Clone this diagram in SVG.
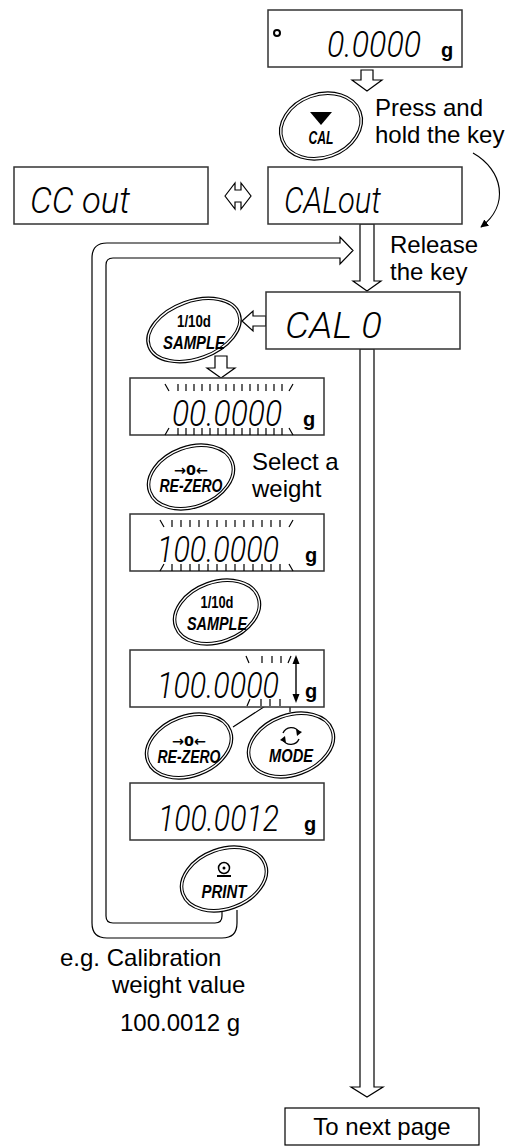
<svg xmlns="http://www.w3.org/2000/svg" width="531" height="1146" viewBox="0 0 531 1146">
<style>
.box{fill:#fff;stroke:#333;stroke-width:1.5}
.seg{font-family:"Roboto","Inter","DejaVu Sans",sans-serif;font-style:italic;font-weight:300;font-size:37px;fill:#000}
.gu{font-family:"Liberation Sans",Arial,sans-serif;font-weight:bold;font-size:20px;fill:#000}
.lbl{font-family:"Liberation Sans",Arial,sans-serif;font-size:24px;fill:#000}
.ko{fill:#fff;stroke:#000;stroke-width:1.2}
.ki{fill:none;stroke:#000;stroke-width:1}
.kt{font-family:"Liberation Sans",Arial,sans-serif;font-weight:bold;font-style:italic;font-size:18px;fill:#000;text-anchor:middle}
.kn{font-family:"Liberation Sans",Arial,sans-serif;font-weight:bold;font-size:16px;fill:#000;text-anchor:middle}
.ks{font-family:"DejaVu Sans",sans-serif;font-weight:bold;font-size:14px;fill:#000;text-anchor:middle}
.hol{fill:#fff;stroke:#000;stroke-width:1.2;stroke-linejoin:miter}
.tk{fill:none;stroke:#000;stroke-width:1.2}
.ln{fill:none;stroke:#000;stroke-width:1.2}
</style>
<defs>
<marker id="ah" viewBox="0 0 10 10" refX="9" refY="5" markerWidth="8" markerHeight="8" orient="auto" markerUnits="userSpaceOnUse">
<path d="M0,0 L10,5 L0,10 z" fill="#000"/>
</marker>
</defs>

<g id="connectors">
<polygon class="hol" points="361,70 373,70 373,80 382,80 367,91 352,80 361,80"/>
<polygon class="hol" points="225,196 235,183 235,190 241,190 241,183 251,196 241,209 241,202 235,202 235,209"/>
<path class="ln" d="M473,153 C503,170 510,205 481,227" marker-end="url(#ah)" stroke-width="1.4"/>
<path class="ln" d="M237,910 V923 Q237,938 222,938 H107 Q92,938 92,923 V258 Q92,243 107,243 H340 V237 L353,250.5 L340,264 V258 H113 Q106,258 106,265 V916 Q106,923 113,923 H215 Q222,923 222,916 V910"/>
<polygon class="hol" points="360,224 374,224 374,281 381,281 367,291 353,281 360,281"/>
<polygon class="hol" points="360,349 374,349 374,1087 383,1087 367,1097 351,1087 360,1087"/>
<polygon class="hol" points="242,321 253,311 253,316 266,316 266,326 253,326 253,331"/>
<polygon class="hol" points="215,356 227,356 227,368 235,368 221,378 207,368 215,368"/>
<path class="ln" d="M233,727 L293,688 M290,712 V692"/>
</g>

<g id="disp-top">
<rect class="box" x="268" y="10" width="194" height="57"/>
<circle cx="277" cy="33" r="3" fill="none" stroke="#000" stroke-width="2"/>
<text class="seg" x="327" y="57" textLength="94" lengthAdjust="spacingAndGlyphs">0.0000</text>
<text class="gu" x="441" y="57">g</text>
</g>

<g id="key-cal" transform="translate(321,126)">
<ellipse class="ko" rx="42.5" ry="32.7" transform="rotate(-20)"/>
<ellipse class="ki" rx="40" ry="30.2" transform="rotate(-20)"/>
<polygon points="-11,-14 11,-14 0,-1" fill="#000"/>
<text class="kt" x="0" y="18" textLength="25" lengthAdjust="spacingAndGlyphs">CAL</text>
</g>
<text class="lbl" x="375" y="116">Press and</text>
<text class="lbl" x="375" y="143">hold the key</text>

<g id="disp-ccout">
<rect class="box" x="14" y="167" width="194" height="57"/>
<text class="seg" x="30" y="213" textLength="100" lengthAdjust="spacingAndGlyphs">CC out</text>
</g>

<g id="disp-calout">
<rect class="box" x="268" y="167" width="194" height="57"/>
<text class="seg" x="284" y="213" textLength="97" lengthAdjust="spacingAndGlyphs">CALout</text>
</g>
<text class="lbl" x="390" y="253">Release</text>
<text class="lbl" x="390" y="280">the key</text>

<g id="disp-cal0">
<rect class="box" x="266" y="292" width="194" height="57"/>
<text class="seg" x="285" y="338" textLength="97" lengthAdjust="spacingAndGlyphs">CAL 0</text>
</g>

<g id="key-sample1" transform="translate(194,330)">
<ellipse class="ko" rx="49" ry="30" transform="rotate(-20)"/>
<ellipse class="ki" rx="46.5" ry="27.5" transform="rotate(-20)"/>
<text class="kn" x="0" y="-3" textLength="34" lengthAdjust="spacingAndGlyphs">1/10d</text>
<text class="kt" x="0" y="19" textLength="62" lengthAdjust="spacingAndGlyphs">SAMPLE</text>
</g>

<g id="disp-3">
<rect class="box" x="130" y="378" width="194" height="57"/>
<text class="seg" x="172" y="426" textLength="110" lengthAdjust="spacingAndGlyphs">00.0000</text>
<text class="gu" x="303" y="426">g</text>
<path class="tk" d="M165,384 l4,7 M178,384 v7 M186,384 v7 M194,384 v7 M202,384 v7 M210,384 v7 M218,384 v7 M226,384 v7 M234,384 v7 M242,384 v7 M250,384 v7 M258,384 v7 M266,384 v7 M274,384 v7 M282,384 v7 M293,384 l-4,7 M169,428 l-4,7 M178,428 v7 M186,428 v7 M194,428 v7 M202,428 v7 M210,428 v7 M218,428 v7 M226,428 v7 M234,428 v7 M242,428 v7 M250,428 v7 M258,428 v7 M266,428 v7 M274,428 v7 M282,428 v7 M289,428 l4,7"/>
</g>

<g id="key-rezero1" transform="translate(191,477)">
<ellipse class="ko" rx="45" ry="31" transform="rotate(-20)"/>
<ellipse class="ki" rx="42.5" ry="28.5" transform="rotate(-20)"/>
<text class="ks" x="0" y="-2" textLength="34" lengthAdjust="spacingAndGlyphs">→0←</text>
<text class="kt" x="0" y="15" textLength="63" lengthAdjust="spacingAndGlyphs">RE-ZERO</text>
</g>
<text class="lbl" x="252" y="470">Select a</text>
<text class="lbl" x="252" y="497">weight</text>

<g id="disp-2">
<rect class="box" x="130" y="514" width="194" height="57"/>
<text class="seg" x="157" y="562" textLength="122" lengthAdjust="spacingAndGlyphs">100.0000</text>
<text class="gu" x="305" y="562">g</text>
<path class="tk" d="M160,520 l4,7 M172,520 v7 M181,520 v7 M190,520 v7 M199,520 v7 M208,520 v7 M217,520 v7 M226,520 v7 M235,520 v7 M244,520 v7 M253,520 v7 M262,520 v7 M271,520 v7 M280,520 v7 M293,520 l-4,7 M164,564 l-4,7 M172,564 v7 M181,564 v7 M190,564 v7 M199,564 v7 M208,564 v7 M217,564 v7 M226,564 v7 M235,564 v7 M244,564 v7 M253,564 v7 M262,564 v7 M271,564 v7 M280,564 v7 M289,564 l4,7"/>
</g>

<g id="key-sample2" transform="translate(217,612)">
<ellipse class="ko" rx="45" ry="31" transform="rotate(-20)"/>
<ellipse class="ki" rx="42.5" ry="28.5" transform="rotate(-20)"/>
<text class="kn" x="0" y="-4" textLength="33" lengthAdjust="spacingAndGlyphs">1/10d</text>
<text class="kt" x="0" y="18" textLength="60" lengthAdjust="spacingAndGlyphs">SAMPLE</text>
</g>

<g id="disp-4">
<rect class="box" x="130" y="650" width="194" height="57"/>
<text class="seg" x="157" y="698" textLength="122" lengthAdjust="spacingAndGlyphs">100.0000</text>
<text class="gu" x="305" y="698">g</text>
<path class="tk" d="M246,656 l3,7 M262,656 v7 M272,656 v7 M281,656 v7 M291,656 l-3,7 M250,699 l-3,7 M261,699 v7 M270,699 v7 M280,699 v7"/>
<path d="M296,662 V696" stroke="#000" stroke-width="1.4"/>
<polygon points="292.5,664 299.5,664 296,655" fill="#000"/>
<polygon points="292.5,694 299.5,694 296,703" fill="#000"/>
</g>

<g id="key-rezero2" transform="translate(189,746)">
<ellipse class="ko" rx="45" ry="31" transform="rotate(-20)"/>
<ellipse class="ki" rx="42.5" ry="28.5" transform="rotate(-20)"/>
<text class="ks" x="0" y="0" textLength="34" lengthAdjust="spacingAndGlyphs">→0←</text>
<text class="kt" x="0" y="17" textLength="63" lengthAdjust="spacingAndGlyphs">RE-ZERO</text>
</g>

<g id="key-mode" transform="translate(291,745)">
<ellipse class="ko" rx="45" ry="31" transform="rotate(-20)"/>
<ellipse class="ki" rx="42.5" ry="28.5" transform="rotate(-20)"/>
<path d="M-8,-12 A9,9 0 0 1 8,-13" fill="none" stroke="#000" stroke-width="1.4"/>
<polygon points="5,-16 11,-13 6,-9" fill="#000"/>
<path d="M8,-6 A9,9 0 0 1 -8,-5" fill="none" stroke="#000" stroke-width="1.4"/>
<polygon points="-5,-2 -11,-5 -6,-9" fill="#000"/>
<text class="kt" x="0" y="17" textLength="44" lengthAdjust="spacingAndGlyphs">MODE</text>
</g>

<g id="disp-5">
<rect class="box" x="130" y="783" width="194" height="57"/>
<text class="seg" x="158" y="831" textLength="121" lengthAdjust="spacingAndGlyphs">100.0012</text>
<text class="gu" x="304" y="831">g</text>
</g>

<g id="key-print" transform="translate(224,879)">
<ellipse class="ko" rx="45" ry="31" transform="rotate(-20)"/>
<ellipse class="ki" rx="42.5" ry="28.5" transform="rotate(-20)"/>
<circle cx="0" cy="-11" r="5.5" fill="none" stroke="#000" stroke-width="1.5"/>
<circle cx="0" cy="-11" r="1.5" fill="#000"/>
<path d="M-7,-3 H7" stroke="#000" stroke-width="2"/>
<text class="kt" x="0" y="19" textLength="45" lengthAdjust="spacingAndGlyphs">PRINT</text>
</g>

<g id="note">
<text class="lbl" x="60" y="966">e.g. Calibration</text>
<text class="lbl" x="112" y="993">weight value</text>
<text class="lbl" x="120" y="1031">100.0012 g</text>
</g>

<g id="next-page">
<rect x="285" y="1108" width="194" height="37" fill="#fff" stroke="#000" stroke-width="1.2"/>
<text class="lbl" x="382" y="1135" text-anchor="middle">To next page</text>
</g>
</svg>
